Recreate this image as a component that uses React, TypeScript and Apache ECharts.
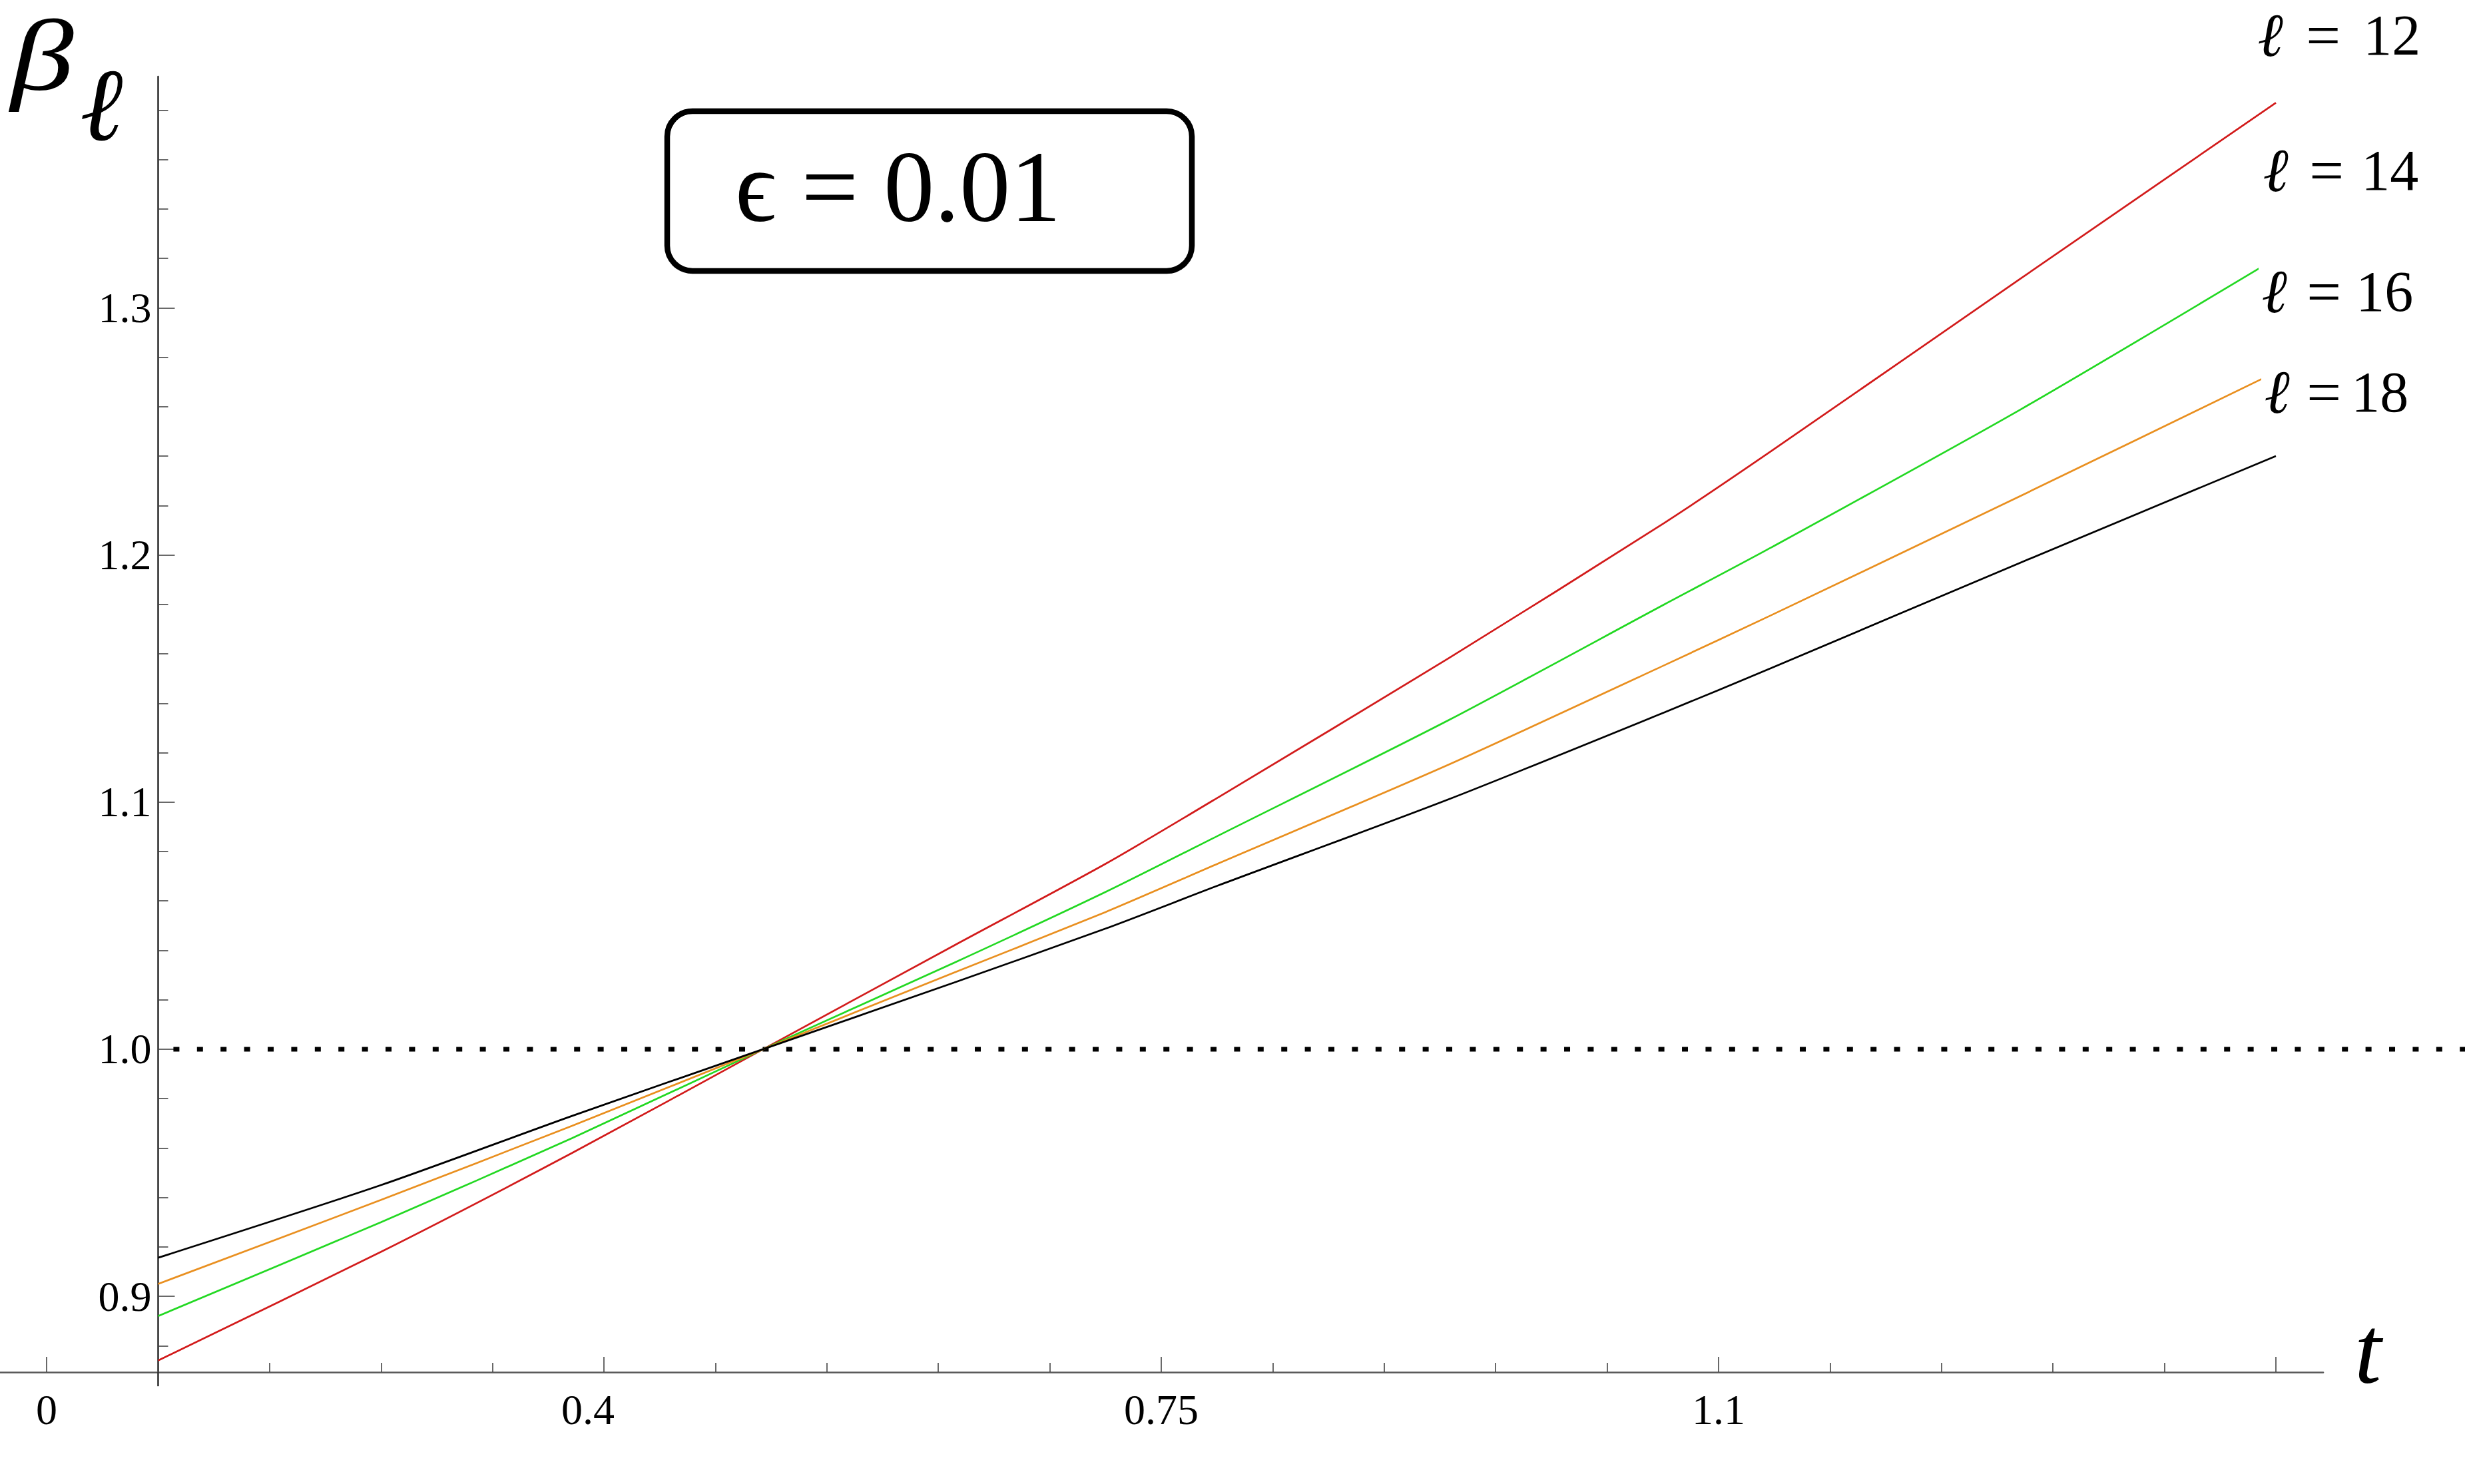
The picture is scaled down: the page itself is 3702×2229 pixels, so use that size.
import React, { useEffect, useRef } from "react";
import * as echarts from "echarts";

const W = 3702;
const H = 2229;

// ---- data ----
const tValues = [0.12, 0.26, 0.38, 0.5, 0.62, 0.715, 0.786, 0.93, 1.066, 1.133, 1.29, 1.45];
const beta12 = [0.874, 0.918, 0.958, 1.0, 1.042, 1.075, 1.102, 1.158, 1.213, 1.242, 1.312, 1.383];
const beta14 = [0.892, 0.93, 0.964, 1.0, 1.035, 1.0636, 1.0865, 1.133, 1.18, 1.203, 1.259, 1.32];
const beta16 = [0.905, 0.939, 0.969, 1.0, 1.031, 1.0555, 1.0752, 1.115, 1.1554, 1.1756, 1.224, 1.274];
const beta18 = [0.9156, 0.945, 0.973, 1.0, 1.027, 1.0488, 1.0663, 1.101, 1.1363, 1.1542, 1.197, 1.24];

const seriesNames = ["ℓ = 12", "ℓ = 14", "ℓ = 16", "ℓ = 18"];
const seriesDigits = ["12", "14", "16", "18"];
const seriesColors = ["#d21b1b", "#22d822", "#e98f1f", "#000000"];

const xMajorTicks = [0.05, 0.4, 0.75, 1.1, 1.45];
const xLabelTicks = [0.05, 0.4, 0.75, 1.1];
const xTickLabels = ["0", "0.4", "0.75", "1.1"];
const xMinorTicks = [0.12, 0.19, 0.26, 0.33, 0.47, 0.54, 0.61, 0.68, 0.82, 0.89, 0.96, 1.03, 1.17, 1.24, 1.31, 1.38];
const yMajorTicks = [0.9, 1.0, 1.1, 1.2, 1.3];
const yMinorTicks = [
  0.88, 0.92, 0.94, 0.96, 0.98, 1.02, 1.04, 1.06, 1.08, 1.12, 1.14, 1.16, 1.18,
  1.22, 1.24, 1.26, 1.28, 1.32, 1.34, 1.36, 1.38,
];

const X_MIN = 0.0207;
const X_MAX = 1.4797;
const Y_MIN = 0.8693;
const Y_MAX = 1.3936;
const Y_AXIS_AT = 0.12;

const refLineStart = 0.1296;
const refLineLevel = 1.0;
const yAxisStub = [
  [0.12, 0.8693],
  [0.12, 0.8636],
];

const epsilonText = "\u03F5 = 0.01";

// ---- layout ----
const GRID = { left: 0, right: 213, top: 115, bottom: 168 };
const GRID_FULL = { left: 0, right: 0, top: 115, bottom: 168 };
const SERIF = "Liberation Serif, serif";

export default function App() {
  const ref = useRef<HTMLDivElement>(null);

  useEffect(() => {
    if (!ref.current) return;
    const chart = echarts.init(ref.current, null, { renderer: "svg" });
    const gridW = W - GRID.left - GRID.right;
    const yOffset = -((Y_AXIS_AT - X_MIN) / (X_MAX - X_MIN)) * gridW;
    // the full-width grid shares the same t scale, extended to the page edge
    const xMaxFull = X_MIN + ((X_MAX - X_MIN) * W) / gridW;

    const curves = [beta12, beta14, beta16, beta18];

    const xBase = {
      type: "value",
      min: X_MIN,
      max: X_MAX,
      position: "bottom",
      splitLine: { show: false },
    };
    const yBase = {
      type: "value",
      min: Y_MIN,
      max: Y_MAX,
      position: "left",
      offset: yOffset,
      splitLine: { show: false },
    };

    const legendY = [50, 253, 435, 586];
    const legendX = [3386, 3394, 3392, 3396];
    const legendGapL = [32, 29, 27, 23];
    const legendGapR = [34, 26, 22, 15];

    const textStyle = (extra: any) => ({
      legacy: false,
      fill: "#000",
      align: "left",
      verticalAlign: "middle",
      fontFamily: SERIF,
      ...extra,
    });

    chart.setOption({
      animation: false,
      backgroundColor: "#ffffff",
      grid: [
        { ...GRID, containLabel: false },
        { ...GRID_FULL, containLabel: false },
      ],
      xAxis: [
        {
          ...xBase,
          gridIndex: 0,
          axisLine: { show: true, onZero: false, lineStyle: { color: "#5a5a5a", width: 2.6 } },
          axisTick: {
            show: true,
            inside: true,
            length: 23,
            customValues: xMajorTicks,
            lineStyle: { color: "#444", width: 1.6 },
          },
          axisLabel: {
            show: true,
            customValues: xLabelTicks,
            margin: 24,
            fontFamily: SERIF,
            fontSize: 64,
            color: "#000",
            formatter: (v: number) => {
              const i = xLabelTicks.findIndex((x) => Math.abs(x - v) < 1e-6);
              if (i < 0) return "";
              return i === 1 ? `{s|${xTickLabels[i]}}` : xTickLabels[i];
            },
            rich: {
              s: { fontFamily: SERIF, fontSize: 64, color: "#000", padding: [0, 48, 0, 0] },
            },
          },
        },
        {
          ...xBase,
          gridIndex: 0,
          axisLine: { show: false },
          axisTick: {
            show: true,
            inside: true,
            length: 14,
            customValues: xMinorTicks,
            lineStyle: { color: "#444", width: 1.6 },
          },
          axisLabel: { show: false },
        },
        {
          type: "value",
          gridIndex: 1,
          min: X_MIN,
          max: xMaxFull,
          show: false,
        },
      ],
      yAxis: [
        {
          ...yBase,
          gridIndex: 0,
          axisLine: { show: true, onZero: false, lineStyle: { color: "#333", width: 2.6 } },
          axisTick: {
            show: true,
            inside: true,
            length: 25,
            customValues: yMajorTicks,
            lineStyle: { color: "#444", width: 1.6 },
          },
          axisLabel: {
            show: true,
            customValues: yMajorTicks,
            margin: 10,
            fontFamily: SERIF,
            fontSize: 64,
            color: "#000",
            formatter: (v: number) => v.toFixed(1),
          },
        },
        {
          ...yBase,
          gridIndex: 0,
          axisLine: { show: false },
          axisTick: {
            show: true,
            inside: true,
            length: 15,
            customValues: yMinorTicks,
            lineStyle: { color: "#444", width: 1.6 },
          },
          axisLabel: { show: false },
        },
        {
          type: "value",
          gridIndex: 1,
          min: Y_MIN,
          max: Y_MAX,
          show: false,
        },
      ],
      series: [
        ...curves.map((arr, k) => ({
          type: "line",
          name: seriesNames[k],
          xAxisIndex: 0,
          yAxisIndex: 0,
          showSymbol: false,
          symbol: "none",
          smooth: 0.25,
          z: 3,
          lineStyle: { color: seriesColors[k], width: 2.7 },
          data: tValues.map((t, i) => [t, arr[i]]),
        })),
        {
          type: "line",
          name: "reference",
          xAxisIndex: 2,
          yAxisIndex: 2,
          symbol: "none",
          silent: true,
          z: 2,
          lineStyle: { color: "#000", width: 7, type: [9, 26.4], cap: "butt" },
          data: [
            [refLineStart, refLineLevel],
            [xMaxFull, refLineLevel],
          ],
        },
        {
          type: "line",
          name: "axisStub",
          xAxisIndex: 0,
          yAxisIndex: 0,
          symbol: "none",
          clip: false,
          silent: true,
          lineStyle: { color: "#333", width: 2.6 },
          data: yAxisStub,
        },
      ],
      graphic: [
        {
          type: "rect",
          z: 10,
          shape: { x: 1002, y: 167, width: 788, height: 240, r: 38 },
          style: { fill: "#fff", stroke: "#000", lineWidth: 8.5 },
        },
        {
          type: "text",
          z: 11,
          x: 1104,
          y: 281,
          style: textStyle({ text: epsilonText, fontSize: 152 }),
        },
        {
          type: "text",
          z: 11,
          x: 16,
          y: 84,
          scaleX: 1.25,
          style: textStyle({ text: "β", fontSize: 152, fontStyle: "italic", lineHeight: 110 }),
        },
        {
          type: "text",
          z: 11,
          x: 120,
          y: 158,
          style: textStyle({ text: "ℓ", fontSize: 155, fontStyle: "italic", lineHeight: 120 }),
        },
        {
          type: "text",
          z: 11,
          x: 3536,
          y: 2028,
          style: textStyle({ text: "t", fontSize: 145, fontStyle: "italic", lineHeight: 110 }),
        },
        ...seriesDigits.map((d, k) => ({
          type: "text",
          z: 12,
          x: legendX[k],
          y: legendY[k],
          style: textStyle({
            text: `{l|ℓ}{e|=}{d|${d}}`,
            rich: {
              l: { fontStyle: "italic", fontWeight: "bold", fontSize: 92, fontFamily: SERIF },
              e: {
                fontSize: 92,
                fontFamily: SERIF,
                padding: [0, legendGapR[k], 0, legendGapL[k]],
              },
              d: { fontSize: 86, fontFamily: SERIF },
            },
            fontSize: 92,
            backgroundColor: "#fff",
            padding: [16, 6, 10, 6],
          }),
        })),
      ],
    });

    return () => chart.dispose();
  }, []);

  return (
    <div
      ref={ref}
      style={{ position: "fixed", left: 0, top: 0, width: W, height: H, background: "#fff" }}
    />
  );
}
